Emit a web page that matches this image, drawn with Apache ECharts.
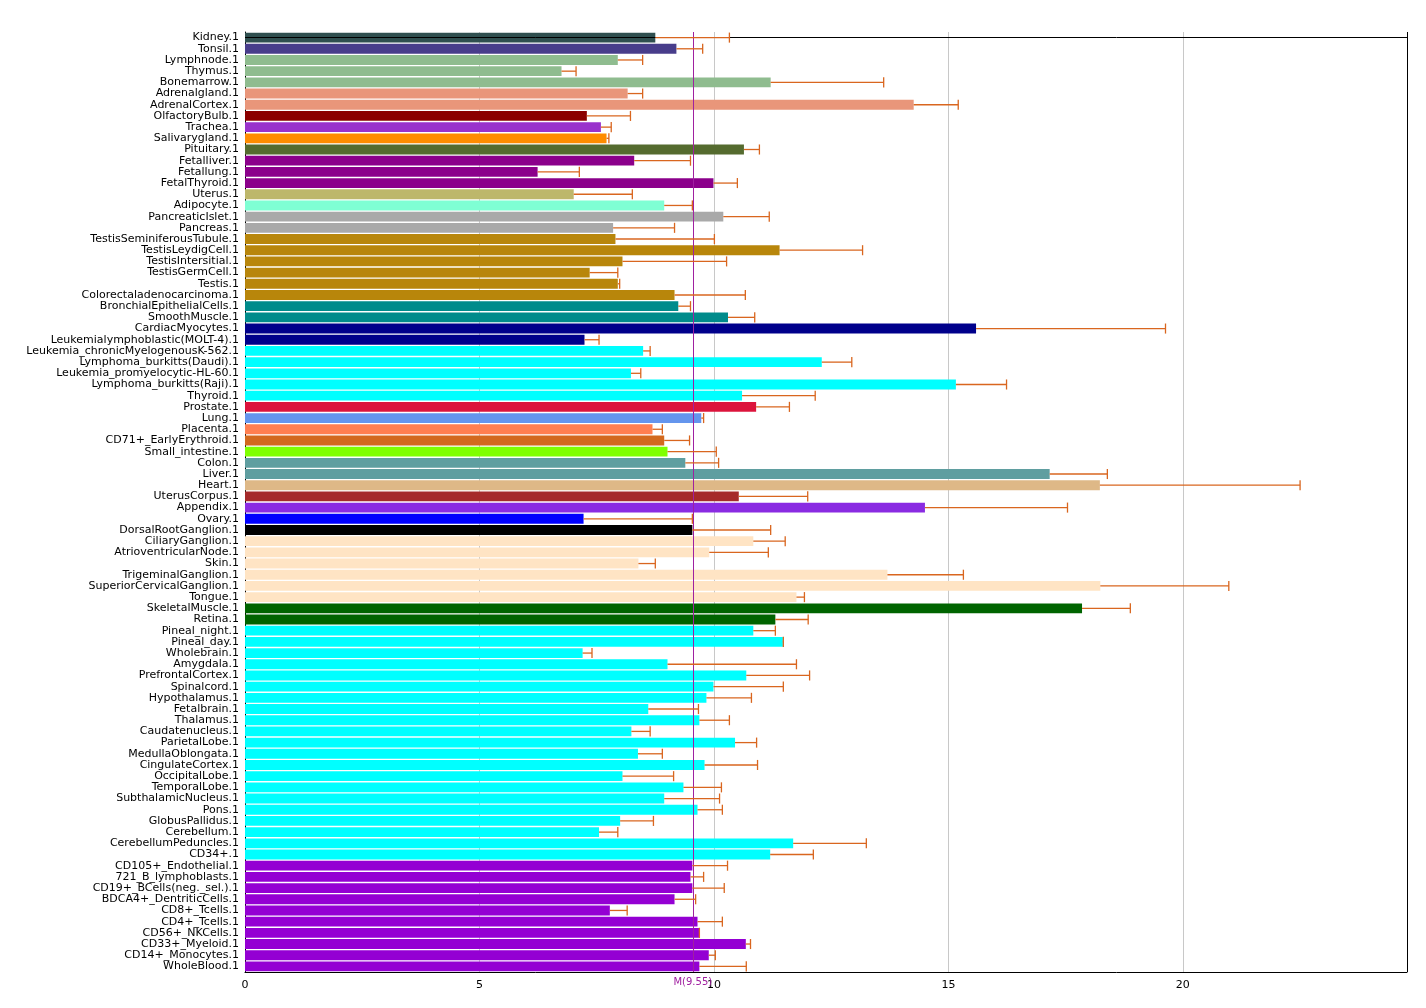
<!DOCTYPE html>
<html><head><meta charset="utf-8">
<script src="https://cdn.jsdelivr.net/npm/echarts@6/dist/echarts.min.js"></script>
<style>html,body{margin:0;background:#fff}#chart{width:1426px;height:1008px}</style>
</head><body><div id="chart"></div>
<script>
"use strict";
const tissues = ["Kidney.1","Tonsil.1","Lymphnode.1","Thymus.1","Bonemarrow.1","Adrenalgland.1","AdrenalCortex.1","OlfactoryBulb.1","Trachea.1","Salivarygland.1","Pituitary.1","Fetalliver.1","Fetallung.1","FetalThyroid.1","Uterus.1","Adipocyte.1","PancreaticIslet.1","Pancreas.1","TestisSeminiferousTubule.1","TestisLeydigCell.1","TestisIntersitial.1","TestisGermCell.1","Testis.1","Colorectaladenocarcinoma.1","BronchialEpithelialCells.1","SmoothMuscle.1","CardiacMyocytes.1","Leukemialymphoblastic(MOLT-4).1","Leukemia_chronicMyelogenousK-562.1","Lymphoma_burkitts(Daudi).1","Leukemia_promyelocytic-HL-60.1","Lymphoma_burkitts(Raji).1","Thyroid.1","Prostate.1","Lung.1","Placenta.1","CD71+_EarlyErythroid.1","Small_intestine.1","Colon.1","Liver.1","Heart.1","UterusCorpus.1","Appendix.1","Ovary.1","DorsalRootGanglion.1","CiliaryGanglion.1","AtrioventricularNode.1","Skin.1","TrigeminalGanglion.1","SuperiorCervicalGanglion.1","Tongue.1","SkeletalMuscle.1","Retina.1","Pineal_night.1","Pineal_day.1","Wholebrain.1","Amygdala.1","PrefrontalCortex.1","Spinalcord.1","Hypothalamus.1","Fetalbrain.1","Thalamus.1","Caudatenucleus.1","ParietalLobe.1","MedullaOblongata.1","CingulateCortex.1","OccipitalLobe.1","TemporalLobe.1","SubthalamicNucleus.1","Pons.1","GlobusPallidus.1","Cerebellum.1","CerebellumPeduncles.1","CD34+.1","CD105+_Endothelial.1","721_B_lymphoblasts.1","CD19+_BCells(neg._sel.).1","BDCA4+_DentriticCells.1","CD8+_Tcells.1","CD4+_Tcells.1","CD56+_NKCells.1","CD33+_Myeloid.1","CD14+_Monocytes.1","WholeBlood.1"];
const means = [8.75,9.20,7.95,6.75,11.21,8.16,14.26,7.29,7.59,7.71,10.64,8.30,6.24,9.99,7.01,8.94,10.20,7.85,7.90,11.40,8.05,7.35,7.95,9.16,9.24,10.30,15.59,7.24,8.49,12.30,8.23,15.16,10.60,10.90,9.73,8.69,8.94,9.01,9.39,17.16,18.23,10.53,14.50,7.22,9.54,10.84,9.90,8.39,13.70,18.24,11.76,17.85,11.31,10.84,11.47,7.20,9.01,10.69,9.99,9.84,8.60,9.69,8.24,10.45,8.38,9.80,8.05,9.35,8.94,9.65,8.00,7.55,11.69,11.20,9.54,9.50,9.54,9.16,7.78,9.65,9.69,10.68,9.89,9.69];
const upper = [10.33,9.76,8.48,7.06,13.62,8.48,15.21,8.22,7.81,7.76,10.97,9.50,7.13,10.50,8.26,9.54,11.18,9.16,10.01,13.17,10.27,7.95,7.99,10.67,9.50,10.87,19.63,7.55,8.64,12.94,8.44,16.24,12.16,11.61,9.78,8.90,9.48,10.05,10.10,18.39,22.50,12.00,17.54,9.54,11.21,11.52,11.16,8.75,15.32,20.98,11.93,18.88,12.01,11.31,11.48,7.40,11.76,12.04,11.48,10.80,9.67,10.33,8.64,10.91,8.90,10.93,9.14,10.16,10.12,10.18,8.71,7.95,13.25,12.12,10.29,9.78,10.22,9.61,8.15,10.18,9.69,10.78,10.03,10.69];
const colorGroups = [["#2f4f4f",1],["#483d8b",1],["#8fbc8f",3],["#e9967a",2],["#8b0000",1],["#9932cc",1],["#ff8c00",1],["#556b2f",1],["#8b008b",3],["#bdb76b",1],["#7fffd4",1],["#a9a9a9",2],["#b8860b",6],["#008b8b",2],["#00008b",2],["#00ffff",5],["#dc143c",1],["#6495ed",1],["#ff7f50",1],["#d2691e",1],["#7fff00",1],["#5f9ea0",2],["#deb887",1],["#a52a2a",1],["#8a2be2",1],["#0000ff",1],["#000000",1],["#ffe4c4",6],["#006400",2],["#00ffff",21],["#9400d3",11]];
const MEDIAN = 9.55;
const colors = colorGroups.flatMap(([c, n]) => Array(n).fill(c));

const chart = echarts.init(document.getElementById("chart"));
const renderErr = (params, api) => {
  const lo = api.coord([api.value(0), api.value(2)]);
  const hi = api.coord([api.value(1), api.value(2)]);
  const h = api.size([0, 1])[1] * 0.45;
  const st = { stroke: "#d9661f", lineWidth: 1.3 };
  return { type: "group", children: [
    { type: "line", shape: { x1: lo[0], y1: lo[1], x2: hi[0], y2: hi[1] }, style: st },
    { type: "line", shape: { x1: hi[0], y1: hi[1] - h, x2: hi[0], y2: hi[1] + h }, style: st }] };
};
chart.setOption({
  animation: false,
  grid: { left: 245, right: 19, top: 32, bottom: 36 },
  xAxis: { type: "value", min: 0, max: 24.78, interval: 5,
    axisLine: { show: true, lineStyle: { color: "#000" } },
    axisTick: { lineStyle: { color: "#000" } },
    axisLabel: { color: "#000", fontSize: 11, fontFamily: "DejaVu Sans", showMaxLabel: false },
    splitLine: { lineStyle: { color: "#c8c8c8" } } },
  yAxis: { type: "category", data: tissues, inverse: true,
    axisLine: { lineStyle: { color: "#000" } },
    axisTick: { alignWithLabel: true, lineStyle: { color: "#000" }, length: 4 },
    axisLabel: { color: "#000", fontSize: 11, fontFamily: "DejaVu Sans", interval: 0, margin: 6 } },
  series: [
    { type: "bar", data: means.map((v, i) => ({ value: v, itemStyle: { color: colors[i] } })),
      barCategoryGap: "12%",
      markLine: { silent: true, symbol: "none", data: [{ xAxis: MEDIAN }],
        lineStyle: { color: "#a020a0", type: "solid", width: 1 },
        label: { position: "end", formatter: "M(" + MEDIAN + ")", color: "#a020a0", fontSize: 10, fontFamily: "DejaVu Sans" } } },
    { type: "custom", renderItem: renderErr, z: 5,
      data: means.map((v, i) => [v, upper[i], i]), encode: { x: [0, 1], y: 2 } },
    { type: "line", data: [], markLine: { silent: true, symbol: "none", data: [{ yAxis: tissues[0] }, { xAxis: 24.78 }],
      lineStyle: { color: "#000", type: "solid", width: 1 }, label: { show: false } } }
  ]
});
</script></body></html>
